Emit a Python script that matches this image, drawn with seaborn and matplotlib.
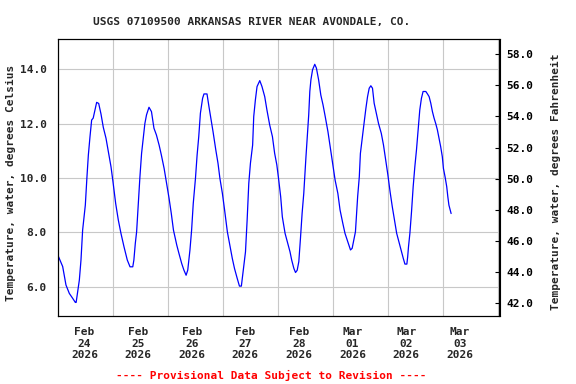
import numpy as np
import pandas as pd
import matplotlib
matplotlib.use("Agg")
import matplotlib.pyplot as plt
import seaborn as sns
from matplotlib.ticker import FixedLocator, MultipleLocator, FormatStrFormatter

# time since Feb 24 2026 00:00 (days) and water temperature (deg C)
days = [0.01, 0.085, 0.145, 0.206, 0.267, 0.315, 0.33, 0.388, 0.418, 0.448,
        0.497, 0.527, 0.552, 0.582, 0.612, 0.64, 0.679, 0.703, 0.74, 0.782,
        0.824, 0.873, 0.921, 0.964, 1.00, 1.049, 1.097, 1.145, 1.20, 1.26,
        1.31, 1.36, 1.38, 1.406, 1.43, 1.46, 1.49, 1.52, 1.55, 1.58,
        1.61, 1.655, 1.70, 1.745, 1.79, 1.84, 1.88, 1.93, 1.97, 2.02,
        2.06, 2.10, 2.16, 2.20, 2.25, 2.29, 2.33, 2.36, 2.40, 2.43,
        2.46, 2.50, 2.53, 2.56, 2.59, 2.63, 2.655, 2.71, 2.745, 2.79,
        2.82, 2.87, 2.91, 2.945, 2.99, 3.03, 3.08, 3.13, 3.17, 3.21,
        3.26, 3.30, 3.335, 3.37, 3.41, 3.44, 3.47, 3.50, 3.54, 3.56,
        3.59, 3.62, 3.67, 3.71, 3.76, 3.80, 3.85, 3.90, 3.94, 3.98,
        4.01, 4.05, 4.08, 4.13, 4.18, 4.22, 4.25, 4.29, 4.32, 4.35,
        4.38, 4.41, 4.44, 4.47, 4.49, 4.51, 4.53, 4.56, 4.58, 4.60,
        4.63, 4.67, 4.70, 4.74, 4.78, 4.82, 4.86, 4.91, 4.95, 5.00,
        5.04, 5.09, 5.13, 5.18, 5.22, 5.27, 5.32, 5.35, 5.38, 5.41,
        5.43, 5.45, 5.48, 5.50, 5.54, 5.57, 5.60, 5.63, 5.66, 5.69,
        5.72, 5.75, 5.79, 5.83, 5.88, 5.92, 5.96, 6.00, 6.04, 6.08,
        6.12, 6.16, 6.20, 6.24, 6.28, 6.31, 6.345, 6.36, 6.375, 6.40,
        6.43, 6.46, 6.49, 6.52, 6.55, 6.58, 6.61, 6.64, 6.69, 6.72,
        6.75, 6.78, 6.81, 6.84, 6.87, 6.90, 6.93, 6.96, 6.99, 7.01,
        7.04, 7.07, 7.09, 7.11, 7.15]
temp_c = [7.10, 6.74, 6.06, 5.75, 5.57, 5.42, 5.42, 6.24, 6.98, 8.08,
          9.00, 10.05, 10.84, 11.52, 12.13, 12.20, 12.56, 12.78, 12.74, 12.35,
          11.86, 11.46, 10.90, 10.41, 9.86, 9.06, 8.45, 7.96, 7.47, 6.98,
          6.73, 6.73, 6.98, 7.59, 8.02, 9.06, 10.04, 10.90, 11.46, 12.00,
          12.32, 12.60, 12.44, 11.83, 11.58, 11.20, 10.84, 10.35, 9.86, 9.25,
          8.70, 8.08, 7.53, 7.22, 6.85, 6.61, 6.42, 6.61, 7.35, 8.08,
          9.06, 9.98, 10.84, 11.52, 12.38, 12.93, 13.09, 13.09, 12.63, 12.07,
          11.70, 11.03, 10.54, 9.98, 9.43, 8.82, 8.02, 7.47, 7.04, 6.67,
          6.30, 6.02, 6.02, 6.61, 7.28, 8.45, 9.80, 10.54, 11.21, 12.26,
          12.87, 13.36, 13.58, 13.36, 12.99, 12.50, 11.95, 11.52, 10.91, 10.48,
          10.00, 9.31, 8.57, 7.96, 7.59, 7.28, 6.98, 6.67, 6.52, 6.60,
          6.92, 7.78, 8.70, 9.43, 10.11, 10.78, 11.40, 12.32, 13.18, 13.61,
          13.98, 14.18, 14.04, 13.61, 13.05, 12.69, 12.26, 11.70, 11.15, 10.48,
          9.92, 9.43, 8.82, 8.33, 7.96, 7.65, 7.35, 7.41, 7.71, 8.02,
          8.69, 9.31, 10.04, 10.90, 11.58, 12.07, 12.56, 12.99, 13.30, 13.39,
          13.30, 12.75, 12.38, 12.00, 11.64, 11.21, 10.66, 10.11, 9.49, 8.94,
          8.45, 7.96, 7.65, 7.35, 7.04, 6.83, 6.83, 7.10, 7.47, 7.96,
          8.76, 9.68, 10.41, 11.03, 11.76, 12.50, 12.93, 13.18, 13.18, 13.09,
          12.99, 12.75, 12.44, 12.20, 12.00, 11.77, 11.46, 11.15, 10.78, 10.35,
          10.04, 9.68, 9.31, 9.00, 8.69]

day_labels = pd.date_range("2026-02-24", periods=8, freq="D").strftime("%b\n%d\n%Y")
c_ticks = [6, 8, 10, 12, 14]
f_ticks = [42, 44, 46, 48, 50, 52, 54, 56, 58]

df = pd.DataFrame({"days": days, "temp": temp_c})

sns.set_style("white")
plt.rcParams["font.family"] = ["DejaVu Sans Mono"]
plt.rcParams["font.weight"] = "bold"
plt.rcParams["font.size"] = 8

fig = plt.figure(figsize=(5.76, 3.84), dpi=100)
ax = fig.add_axes([58 / 576, 1 - 316 / 384, 441.5 / 576, 276.7 / 384])

sns.lineplot(data=df, x="days", y="temp", ax=ax, color="#0000ff", linewidth=0.9)

ax.set_xlim(0, 8.03)
ax.set_ylim(4.92, 15.1)
ax.xaxis.set_major_locator(MultipleLocator(1))
ax.xaxis.set_major_formatter(plt.NullFormatter())
ax.xaxis.set_minor_locator(FixedLocator(np.linspace(0.48, 7.31, 8)))
ax.set_xticklabels(day_labels, minor=True)
ax.set_yticks(c_ticks)
ax.yaxis.set_major_formatter(FormatStrFormatter("%.1f"))
ax.tick_params(axis="x", which="both", length=0, pad=8)
ax.tick_params(axis="y", length=0, pad=8)
ax.grid(True, color="#c8c8c8", linewidth=0.8)
ax.set_xlabel("")
ax.set_ylabel("")
for s in ax.spines.values():
    s.set_color("black")
    s.set_linewidth(0.8)

ax2 = ax.twinx()
ax2.set_ylim(41.18, 58.96)
ax2.set_yticks(f_ticks)
ax2.yaxis.set_major_formatter(FormatStrFormatter("%.1f"))
ax2.tick_params(axis="y", direction="in", length=3, width=0.8, pad=5, colors="black")
for s in ax2.spines.values():
    s.set_color("black")
    s.set_linewidth(0.8)

fig.text(251.5 / 576, 1 - 21.5 / 384, "USGS 07109500 ARKANSAS RIVER NEAR AVONDALE, CO.",
         ha="center", va="center")
fig.text(11 / 576, 1 - 183 / 384, "Temperature, water, degrees Celsius",
         rotation=90, ha="center", va="center")
fig.text(556 / 576, 1 - 182 / 384, "Temperature, water, degrees Fahrenheit",
         rotation=90, ha="center", va="center")
fig.text(271 / 576, 1 - 375 / 384, "---- Provisional Data Subject to Revision ----",
         ha="center", va="center", color="#ff0000")

fig.savefig("out.png", dpi=100)
